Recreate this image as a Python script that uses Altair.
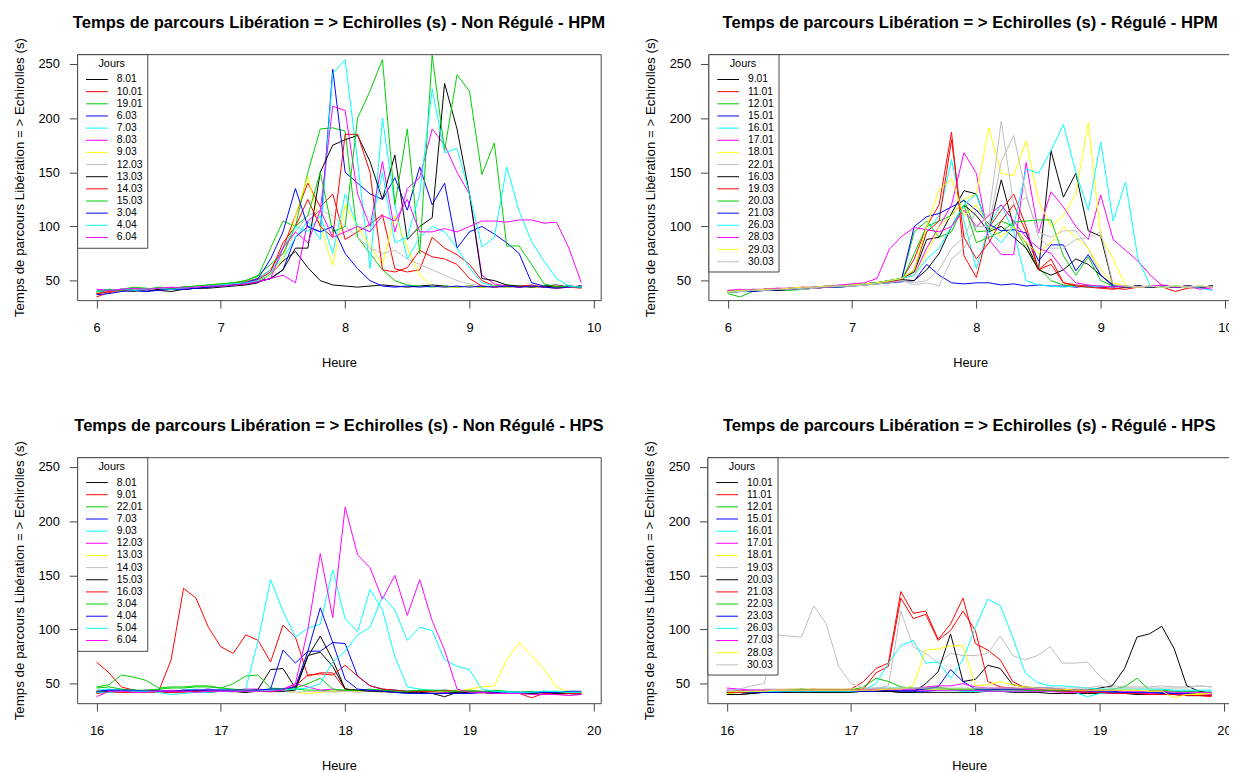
import altair as alt
import pandas as pd

# ---------------- data ----------------
HOURS_HPM = [6.0, 6.1, 6.2, 6.3, 6.4, 6.5, 6.6, 6.7, 6.8, 6.9,
             7.0, 7.1, 7.2, 7.3, 7.4, 7.5, 7.6, 7.7, 7.8, 7.9,
             8.0, 8.1, 8.2, 8.3, 8.4, 8.5, 8.6, 8.7, 8.8, 8.9,
             9.0, 9.1, 9.2, 9.3, 9.4, 9.5, 9.6, 9.7, 9.8, 9.9]
HOURS_HPS = [16.0, 16.1, 16.2, 16.3, 16.4, 16.5, 16.6, 16.7, 16.8, 16.9,
             17.0, 17.1, 17.2, 17.3, 17.4, 17.5, 17.6, 17.7, 17.8, 17.9,
             18.0, 18.1, 18.2, 18.3, 18.4, 18.5, 18.6, 18.7, 18.8, 18.9,
             19.0, 19.1, 19.2, 19.3, 19.4, 19.5, 19.6, 19.7, 19.8, 19.9]

TICKS_HPM = [6, 7, 8, 9, 10]
TICKS_HPS = [16, 17, 18, 19, 20]
Y_TICKS = [50, 100, 150, 200, 250]

PALETTE = ["#000000", "#FF0000", "#00CD00", "#0000FF",
           "#00FFFF", "#FF00FF", "#FFFF00", "#BEBEBE"]

# Non régulé - HPM
DAYS_NR_HPM = ["8.01", "10.01", "19.01", "6.03", "7.03", "8.03", "9.03",
               "12.03", "13.03", "14.03", "15.03", "3.04", "4.04", "6.04"]
VALS_NR_HPM = [
    [38,40,41,40,42,41,40,42,43,43, 44,45,46,48,56,68,77,62,50,46, 45,44,45,46,45,44,45,46,45,44, 45,44,45,44,45,44,45,46,44,45],
    [35,39,41,42,41,43,42,43,44,45, 46,47,49,52,60,80,110,140,118,130, 88,95,102,111,61,58,60,90,80,74, 65,50,45,44,45,46,44,45,44,43],
    [40,41,42,44,43,42,43,44,45,46, 47,48,50,54,80,105,100,150,190,191, 188,90,75,60,50,46,45,44,45,44, 45,44,45,46,44,45,44,45,44,45],
    [39,40,41,42,41,42,43,42,43,44, 45,46,47,49,52,60,90,100,95,245, 150,140,130,125,145,115,155,120,140,80, 95,100,93,85,75,48,45,44,45,44],
    [41,42,41,42,43,42,43,44,44,45, 46,47,48,52,60,70,90,105,88,241, 254,160,61,200,120,70,90,100,95,80, 62,48,45,44,45,44,45,44,45,44],
    [40,41,42,41,42,43,42,43,44,44, 45,46,47,49,52,55,48,105,115,211, 207,130,100,160,95,135,145,190,175,150, 130,55,47,45,44,45,44,45,44,45],
    [39,40,41,41,42,42,43,43,44,44, 45,46,47,50,55,70,110,146,100,64, 120,100,82,65,110,80,55,45,44,44, 45,44,45,44,45,44,44,45,44,45],
    [40,41,40,42,41,42,43,43,44,45, 45,46,48,50,58,75,95,110,115,110, 100,90,80,75,78,70,65,60,55,50, 47,45,44,45,44,45,44,45,44,45],
    [40,41,42,41,40,42,43,42,43,44, 45,46,47,49,52,60,80,80,150,175, 180,184,160,125,166,88,100,108,232,190, 130,52,50,46,45,44,45,44,45,44],
    [38,40,41,41,42,43,43,44,44,45, 46,47,48,51,58,85,100,125,100,90, 185,185,150,60,58,62,78,72,70,65, 52,45,44,45,44,45,44,43,44,45],
    [40,42,41,43,42,44,43,44,45,46, 47,48,50,55,65,75,100,110,150,95, 100,200,225,254,120,190,75,258,170,240, 225,148,177,82,82,65,47,44,45,44],
    [37,38,40,41,40,41,42,42,43,44, 45,46,48,52,70,95,135,100,95,100, 75,61,50,45,44,45,44,45,44,45, 44,45,44,45,44,45,44,43,44,45],
    [40,41,42,41,42,43,42,43,44,45, 46,47,48,50,56,80,100,95,110,75, 130,100,95,150,85,90,130,227,168,172, 130,81,90,155,114,86,68,52,45,44],
    [42,41,42,43,42,43,44,43,44,45, 45,46,47,49,52,80,95,85,115,90, 95,100,95,110,105,125,95,95,98,95, 100,105,105,104,106,106,103,104,80,48],
]

# Régulé - HPM
DAYS_R_HPM = ["9.01", "11.01", "12.01", "15.01", "16.01", "17.01", "18.01", "22.01",
              "16.03", "19.03", "20.03", "21.03", "26.03", "28.03", "29.03", "30.03"]
VALS_R_HPM = [
    [40,41,41,42,41,42,43,43,44,45, 46,47,48,50,52,58,88,90,112,133, 130,96,143,100,85,60,170,127,149,96, 91,45,44,45,44,45,44,45,44,45],
    [40,40,41,42,42,43,42,43,44,45, 46,47,48,50,51,70,100,120,187,73, 53,99,115,130,100,60,65,48,46,45, 44,43,42,44,45,44,40,43,44,45],
    [38,35,40,41,42,41,42,43,44,44, 45,46,47,48,50,75,100,105,110,125, 95,96,105,100,80,62,50,46,45,44, 45,44,45,44,45,44,45,44,45,44],
    [39,40,41,42,41,42,43,43,44,44, 45,46,47,48,49,50,65,55,48,47, 48,48,46,47,45,46,45,45,44,45, 44,45,44,45,44,45,44,45,44,45],
    [40,41,42,41,42,43,43,44,44,45, 46,47,48,50,52,60,95,110,162,105, 61,100,120,95,50,46,45,44,45,44, 45,44,45,44,45,44,45,44,45,44],
    [41,40,42,42,43,42,44,43,44,45, 46,47,48,50,52,55,80,100,120,168, 149,88,74,74,159,94,132,118,100,88, 129,88,78,68,55,45,44,45,44,42],
    [40,41,41,42,43,42,43,44,45,45, 46,47,48,50,52,55,75,100,110,125, 130,191,149,147,179,124,100,110,130,196, 91,70,45,44,45,44,45,44,45,44],
    [39,40,41,41,42,43,42,43,44,45, 45,46,47,49,50,48,50,60,80,90, 115,110,197,120,127,95,90,96,96,80, 55,45,44,45,44,45,44,45,44,45],
    [40,41,40,42,41,42,43,44,44,45, 46,47,48,50,51,50,60,75,100,120, 110,95,100,90,80,60,55,60,70,65, 55,46,44,45,44,45,44,45,44,45],
    [41,40,41,42,42,43,43,44,44,45, 46,47,48,49,51,60,95,105,180,90, 70,85,105,120,95,60,70,48,45,44, 43,42,44,45,44,45,44,45,44,45],
    [39,40,41,42,42,43,43,44,45,45, 46,47,48,50,52,95,105,90,95,120, 85,90,95,104,105,106,106,73,55,72, 50,45,44,45,44,45,44,45,44,45],
    [40,41,40,41,42,42,43,44,44,45, 46,47,48,50,52,100,109,112,118,124, 115,102,96,97,94,68,83,83,59,74, 55,45,44,45,44,45,44,45,44,45],
    [40,40,41,42,42,43,43,44,45,45, 46,47,48,50,52,55,70,80,100,120, 130,95,85,100,153,149,170,194,150,115, 178,105,141,70,45,44,45,44,43,41],
    [41,42,41,42,43,43,44,44,45,46, 47,48,52,79,91,99,97,95,100,115, 100,110,120,105,90,80,75,60,48,46, 45,44,45,44,45,46,44,45,42,44],
    [40,41,41,42,42,43,44,44,45,45, 46,47,48,50,52,60,100,134,144,110, 120,100,90,100,85,75,85,100,90,80, 60,48,45,44,45,44,45,44,45,44],
    [39,40,41,41,42,42,43,44,44,45, 45,46,47,48,50,46,48,45,70,80, 100,100,160,184,130,90,80,80,88,90, 95,46,45,44,45,44,45,44,45,44],
]

# Non régulé - HPS
DAYS_NR_HPS = ["8.01", "9.01", "22.01", "7.03", "9.03", "12.03", "13.03",
               "14.03", "15.03", "16.03", "3.04", "4.04", "5.04", "6.04"]
VALS_NR_HPS = [
    [42,43,43,42,43,44,43,43,44,43, 43,43,42,45,63,64,46,76,79,66, 45,44,43,43,42,42,41,41,38,42, 42,42,41,42,42,41,41,42,41,41],
    [70,60,47,44,43,43,72,138,129,102, 84,78,95,90,70,104,93,57,60,60, 45,44,43,44,43,42,43,42,43,42, 43,42,43,42,41,42,41,42,41,42],
    [47,49,58,56,53,46,47,47,48,48, 46,50,57,58,46,45,45,44,44,43, 44,43,44,43,44,43,44,43,44,43, 44,43,44,43,42,43,42,43,42,42],
    [43,44,44,43,44,44,43,44,44,45, 44,44,43,44,45,81,69,80,80,88, 87,57,48,45,44,43,43,42,42,41, 41,42,41,41,42,41,42,41,42,41],
    [44,45,44,44,43,44,42,44,45,44, 45,44,45,90,146,117,93,101,105,155, 110,98,137,118,75,47,45,44,44,43, 43,42,42,43,42,42,43,42,42,41],
    [42,43,43,43,44,43,44,43,44,44, 44,44,45,45,44,45,50,47,44,45, 43,44,44,43,43,42,42,42,42,41, 42,41,42,41,42,41,41,40,41,41],
    [44,43,43,42,42,42,42,43,43,43, 43,43,44,43,43,43,42,41,42,43, 43,43,43,42,42,42,42,42,43,43, 45,47,48,72,88,76,63,47,42,42],
    [43,43,42,43,43,42,43,43,42,43, 43,42,43,43,42,43,42,43,43,42, 43,42,43,42,42,41,42,42,41,42, 42,41,42,41,42,41,41,40,40,41],
    [42,43,43,42,43,43,42,43,43,42, 43,43,42,43,43,43,44,75,94,72, 45,44,43,43,42,42,42,41,41,42, 42,42,41,41,41,41,40,41,41,40],
    [41,42,42,42,42,42,42,42,43,43, 43,43,43,43,43,44,48,58,59,58, 67,57,48,45,44,43,43,43,44,43, 43,42,42,41,41,37,41,40,41,41],
    [46,47,45,44,44,45,46,46,47,47, 46,45,44,44,45,45,46,50,55,45, 44,44,45,44,43,43,44,44,43,43, 43,42,43,42,42,42,43,42,42,42],
    [43,44,44,44,43,43,43,44,44,44, 44,44,44,44,45,45,47,80,120,88, 54,45,44,43,42,41,41,41,41,41, 41,42,42,42,42,42,42,42,43,43],
    [42,42,43,43,43,42,40,41,42,42, 43,43,43,43,44,44,45,46,50,70, 80,95,102,131,118,90,102,99,72,66, 63,45,43,42,42,42,43,43,42,42],
    [38,43,43,42,42,43,43,43,42,43, 43,43,43,43,43,44,50,100,170,111, 213,169,157,128,150,113,146,108,81,45, 42,42,41,41,41,40,40,40,39,40],
]

# Régulé - HPS
DAYS_R_HPS = ["10.01", "11.01", "12.01", "15.01", "16.01", "17.01", "18.01", "19.03",
              "20.03", "21.03", "22.03", "23.03", "26.03", "27.03", "28.03", "30.03"]
VALS_R_HPS = [
    [40,40,41,42,42,42,43,42,42,42, 43,43,43,43,42,42,42,42,42,42, 42,43,43,42,42,42,41,41,41,41, 41,41,41,40,40,40,40,39,39,39],
    [42,43,43,42,43,44,44,45,44,44, 45,52,64,69,135,115,117,91,105,129, 87,81,72,52,46,45,44,43,43,42, 42,42,41,41,41,41,40,40,40,39],
    [41,42,43,43,43,43,42,43,43,43, 42,44,45,45,45,45,46,47,45,43, 43,44,44,44,44,43,43,43,43,42, 42,42,42,42,42,42,41,41,41,40],
    [42,42,43,43,43,43,43,43,43,43, 43,43,43,43,43,43,43,44,44,44, 44,44,45,45,45,46,45,44,44,43, 42,42,42,42,42,41,41,41,41,41],
    [44,44,44,44,43,44,44,44,44,44, 44,45,46,46,46,45,45,44,44,43, 43,43,43,43,43,43,43,43,42,38, 41,41,41,42,42,42,43,43,43,43],
    [46,45,44,44,44,44,44,43,44,44, 44,44,44,44,44,44,44,44,44,44, 44,43,43,43,43,43,43,42,42,42, 42,41,41,41,41,40,40,40,40,40],
    [41,42,43,44,44,45,45,45,45,45, 45,45,45,45,45,45,45,45,45,45, 45,45,46,46,46,45,45,44,44,44, 44,44,44,44,43,43,42,40,40,41],
    [43,44,43,45,45,45,45,45,45,45, 45,45,46,48,117,84,78,69,78,76, 76,78,94,76,72,76,84,69,69,70, 57,48,47,47,47,48,47,47,48,47],
    [40,40,41,42,42,42,42,42,42,42, 42,43,43,43,42,42,50,61,96,52, 54,67,64,49,47,46,45,44,44,44, 46,48,64,93,96,103,82,48,43,41],
    [42,42,42,43,43,43,44,44,44,44, 44,45,60,66,129,110,114,90,99,117, 99,52,47,46,45,44,44,43,43,42, 42,41,41,41,40,40,40,39,39,38],
    [43,43,42,43,43,44,45,44,44,44, 44,47,55,52,47,46,46,46,45,45, 45,45,45,45,44,44,44,44,44,44, 44,45,47,55,44,44,43,43,42,42],
    [43,43,42,42,42,43,43,43,43,43, 43,43,43,44,44,44,45,47,63,52, 45,45,45,45,45,46,46,45,44,44, 43,43,42,42,42,42,41,41,41,41],
    [43,43,43,43,43,43,43,43,43,43, 43,44,50,69,85,90,69,70,55,72, 102,128,122,93,60,51,48,48,47,46, 45,45,45,45,45,45,44,44,44,44],
    [44,44,44,44,44,44,44,44,44,44, 44,44,45,45,45,45,47,48,48,50, 47,46,46,46,45,45,45,45,44,44, 44,44,43,43,43,43,42,42,42,42],
    [43,43,43,43,44,44,44,44,44,44, 44,44,44,45,45,48,81,82,85,85, 48,49,52,49,47,46,45,45,44,44, 44,44,44,44,43,43,37,40,41,41],
    [43,45,48,50,95,94,93,122,105,66, 50,46,46,46,46,46,46,46,46,46, 46,46,46,46,46,46,46,46,46,46, 48,46,46,46,46,46,46,46,48,47],
]

TITLE_BASE = "Temps de parcours Libération = > Echirolles (s) - "
Y_TITLE = "Temps de parcours Libération = > Echirolles (s)"
FONT = "Liberation Sans"
LINE_GREY = "#444444"


def panel(title, days, vals, hours, ticks):
    rows = []
    for k, (d, series) in enumerate(zip(days, vals)):
        for h, v in zip(hours, series):
            rows.append({"h": h, "v": v, "day": d, "k": k})
    df = pd.DataFrame(rows)
    colors = [PALETTE[k % len(PALETTE)] for k in range(len(days))]
    span = hours[-1] - hours[0]
    xdom = [hours[0] - 0.04 * span, hours[-1] + 0.04 * span]
    return alt.Chart(df).mark_line(strokeWidth=1, clip=True).encode(
        x=alt.X("h:Q",
                scale=alt.Scale(domain=xdom, nice=False, zero=False),
                axis=alt.Axis(values=ticks, format="d", title="Heure",
                              labelPadding=14, titlePadding=22)),
        y=alt.Y("v:Q",
                scale=alt.Scale(domain=[32, 259], nice=False, zero=False),
                axis=alt.Axis(values=Y_TICKS, title=Y_TITLE,
                              labelPadding=10, titlePadding=12,
                              titleFontSize=13.5)),
        color=alt.Color("day:N",
                        scale=alt.Scale(domain=days, range=colors),
                        sort=days,
                        legend=alt.Legend(
                            title="Jours", orient="top-left", offset=0,
                            padding=4, strokeColor=LINE_GREY, fillColor="white",
                            symbolType="M-2.2,0L2.2,0", symbolSize=100,
                            symbolStrokeWidth=1, symbolOffset=10.5,
                            labelOffset=14.5, labelFontSize=10.5, labelFont=FONT,
                            labelColor="black", rowPadding=0.3, columns=1,
                            clipHeight=11.3,
                            titleFontSize=11, titleFontWeight="normal",
                            titleFont=FONT, titleColor="black",
                            titleAnchor="middle", titlePadding=5)),
        detail="k:O",
    ).properties(
        width=530, height=249,
        title=alt.Title(title, fontSize=16.8, fontWeight="bold", font=FONT,
                        color="black", anchor="middle", offset=5.5),
    )


p1 = panel(TITLE_BASE + "Non Régulé - HPM", DAYS_NR_HPM, VALS_NR_HPM, HOURS_HPM, TICKS_HPM)
p2 = panel(TITLE_BASE + "Régulé - HPM", DAYS_R_HPM, VALS_R_HPM, HOURS_HPM, TICKS_HPM)
p3 = panel(TITLE_BASE + "Non Régulé - HPS", DAYS_NR_HPS, VALS_NR_HPS, HOURS_HPS, TICKS_HPS)
p4 = panel(TITLE_BASE + "Régulé - HPS", DAYS_R_HPS, VALS_R_HPS, HOURS_HPS, TICKS_HPS)

row1 = alt.hconcat(p1, p2, spacing=37).resolve_scale(color="independent")
row2 = alt.hconcat(p3, p4, spacing=37).resolve_scale(color="independent")

chart = alt.vconcat(row1, row2, spacing=48).resolve_scale(
    color="independent"
).properties(
    padding={"left": 3, "top": 2, "right": -4, "bottom": 0},
    background="white",
).configure_view(
    stroke=LINE_GREY, strokeWidth=1
).configure_axis(
    labelFont=FONT, labelFontSize=13, labelColor="black",
    titleFont=FONT, titleFontSize=13, titleFontWeight="normal", titleColor="black",
    tickColor=LINE_GREY, tickSize=8, domain=False, grid=False,
)

chart.save("out.html", embed_options={"renderer": "svg", "actions": False})
